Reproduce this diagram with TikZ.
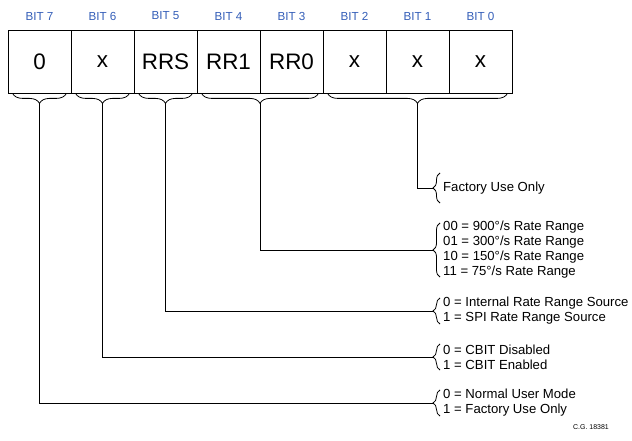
\documentclass[tikz,border=0pt]{standalone}
\usepackage{fontspec}
\setmainfont{Liberation Sans}
\usetikzlibrary{positioning,calc,decorations.pathreplacing}
\definecolor{bitblue}{RGB}{52,94,184}

\begin{document}
\begin{tikzpicture}[
    x=1bp, y=1bp,
    cell/.style={draw, line width=0.8bp, minimum width=63bp, minimum height=63bp,
                 inner sep=0pt, font=\fontsize{22.5}{22.5}\selectfont},
    bitlbl/.style={font=\fontsize{11.7}{12}\selectfont, text=bitblue},
    note/.style={anchor=west, align=left, inner sep=0pt,
                 font=\fontsize{13.2}{15}\selectfont},
    ubrc/.style={decorate, decoration={brace, mirror, amplitude=10bp}, line width=0.8bp},
    lbrc/.style={decorate, decoration={brace, amplitude=7bp}, line width=0.8bp},
    wire/.style={line width=0.8bp},
  ]
  \useasboundingbox (0,0) rectangle (632,-441);

  % Register cells and bit numbers
  \foreach \val [count=\i from 0] in {0,x,RRS,RR1,RR0,x,x,x} {
    \pgfmathtruncatemacro{\bit}{7-\i}
    \node[cell] (cell\bit) at (39.5+63*\i,-61.5) {\val};
    \node[bitlbl] (bit\bit) at (39.5+63*\i,-16) {BIT \bit};
  }

  % Braces under the bit groups
  \draw[ubrc] ([xshift=5]cell7.south west) -- ([xshift=-5]cell7.south east);
  \draw[ubrc] ([xshift=5]cell6.south west) -- ([xshift=-5]cell6.south east);
  \draw[ubrc] ([xshift=5]cell5.south west) -- ([xshift=-5]cell5.south east);
  \draw[ubrc] ([xshift=5]cell4.south west) -- ([xshift=-5]cell3.south east);
  \draw[ubrc] ([xshift=5]cell2.south west) -- ([xshift=-5]cell0.south east);
  \coordinate (g7) at ([yshift=-10]cell7.south);
  \coordinate (g6) at ([yshift=-10]cell6.south);
  \coordinate (g5) at ([yshift=-10]cell5.south);
  \coordinate (g43) at ([yshift=-10]cell4.south east);
  \coordinate (g20) at ([yshift=-10]cell1.south);

  % Meaning of each group
  \node[note] (nfac) at (443,-188) {Factory Use Only};
  \node[note] (nrate) at (443,-250) {00 = 900°/s Rate Range\\01 = 300°/s Rate Range\\10 = 150°/s Rate Range\\11 = 75°/s Rate Range};
  \node[note] (nrrs) at (443,-311) {0 = Internal Rate Range Source\\1 = SPI Rate Range Source};
  \node[note] (ncbit) at (443,-357) {0 = CBIT Disabled\\1 = CBIT Enabled};
  \node[note] (nmode) at (443,-403) {0 = Normal User Mode\\1 = Factory Use Only};

  \draw[lbrc] ([shift={(-3,-15)}]nfac.west) -- ([shift={(-3,15)}]nfac.west);
  \draw[lbrc] ([shift={(-3,-27)}]nrate.west) -- ([shift={(-3,27)}]nrate.west);
  \draw[lbrc] ([shift={(-3,-13)}]nrrs.west) -- ([shift={(-3,13)}]nrrs.west);
  \draw[lbrc] ([shift={(-3,-13)}]ncbit.west) -- ([shift={(-3,13)}]ncbit.west);
  \draw[lbrc] ([shift={(-3,-13)}]nmode.west) -- ([shift={(-3,13)}]nmode.west);
  \coordinate (kfac) at ([xshift=-10]nfac.west);
  \coordinate (krate) at ([xshift=-10]nrate.west);
  \coordinate (krrs) at ([xshift=-10]nrrs.west);
  \coordinate (kcbit) at ([xshift=-10]ncbit.west);
  \coordinate (kmode) at ([xshift=-10]nmode.west);

  % Connectors
  \draw[wire] (g20) |- (kfac);
  \draw[wire] (g43) |- (krate);
  \draw[wire] (g5) |- (krrs);
  \draw[wire] (g6) |- (kcbit);
  \draw[wire] (g7) |- (kmode);

  \node[font=\fontsize{7}{8}\selectfont] (cg) at (591,-427) {C.G. 18381};
\end{tikzpicture}
\end{document}
